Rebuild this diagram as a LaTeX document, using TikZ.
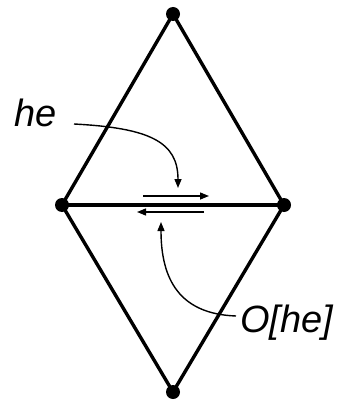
\documentclass[tikz,border=0pt]{standalone}
\usepackage{fontspec}
\setmainfont{Liberation Sans}
\usepackage{tikz}
\usetikzlibrary{arrows.meta,positioning,calc}

\tikzset{
  vertex/.style={circle, fill=black, inner sep=0pt, minimum size=14pt},
  halfedge/.style={line width=1.4pt, -{Triangle[length=9pt, width=7pt]}},
  pointer/.style={line width=1.4pt, -{Triangle[length=9pt, width=7pt]}},
  lbl/.style={font=\fontsize{38}{42}\selectfont\itshape, inner sep=0pt}
}

\begin{document}
\begin{tikzpicture}[x=1pt, y=-1pt]
    \useasboundingbox (0,0) rectangle (344,401);

    % Vertices of the two triangles
    \node[vertex] (top) at (173,14) {};
    \node[vertex] (left) at (62,205) {};
    \node[vertex] (right) at (284,205) {};
    \node[vertex] (bottom) at (173,392) {};

    % Edges
    \draw[line width=3.4pt] (top.center) -- (left.center) -- (bottom.center) -- (right.center) -- cycle;
    \draw[line width=3.4pt] (left.center) -- (right.center);

    % The half-edge and its opposite
    \coordinate (he1) at (143,196);
    \coordinate (he2) at (209,196);
    \coordinate (op1) at (204,212);
    \coordinate (op2) at (137,212);
    \draw[halfedge] (he1) -- (he2);
    \draw[halfedge] (op1) -- (op2);

    % Labels with pointers
    \node[lbl, anchor=base west] (helbl) at (14,126) {he};
    \node[lbl, anchor=base west] (oplbl) at (240,332) {O[he]};
    \coordinate (hestart) at (74,124);
    \coordinate (hetip) at (178,188);
    \coordinate (opstart) at (236,316);
    \coordinate (optip) at (161,222);
    \draw[pointer] (hestart) .. controls (150,128) and (178,142) .. (hetip);
    \draw[pointer] (opstart) .. controls (180,314) and (161,280) .. (optip);
  \end{tikzpicture}
\end{document}
